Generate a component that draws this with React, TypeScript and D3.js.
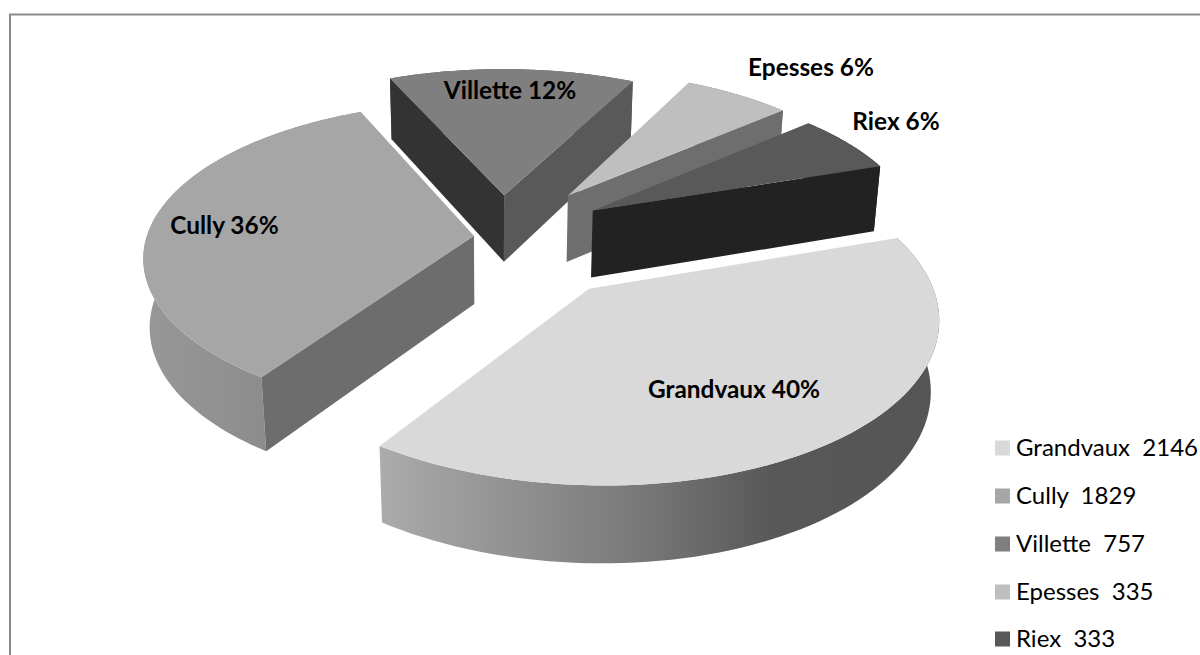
import React from "react";
import * as d3 from "d3";

const categories = ["Grandvaux", "Cully", "Villette", "Epesses", "Riex"];
const values = [2146, 1829, 757, 335, 333];
const percents = [40, 36, 12, 6, 6];
const topColors = ["#d9d9d9", "#a6a6a6", "#7f7f7f", "#bfbfbf", "#595959"];
const legendColors = ["#d9d9d9", "#a6a6a6", "#7f7f7f", "#bfbfbf", "#595959"];
const startFaceColors = ["#8a8a8a", "#6d6d6d", "#333333", "#8a8a8a", "#3a3a3a"];
const endFaceColors = ["#8a8a8a", "#6d6d6d", "#595959", "#6e6e6e", "#222222"];
const explodeX = [0.2257, -0.0585, 0.0195, 0.1892, 0.2518];
const explodeY = [0.1352, -0.1436, -0.375, -0.373, -0.286];
const radii = [0.8419, 0.8384, 0.851, 0.8422, 0.841];
const labelX = [734, 224.5, 510, 811, 896];
const labelY = [398, 234, 99, 76, 130];
const drawOrder = [2, 3, 4, 1, 0];
const legendY = [448, 496, 544, 592, 639];

const E = 0.4969, D = 5.1963, F = 2076.0661, CX = 496.7397, CY = 262.5, H = 0.201, A0 = 1.2483;

function project(X: number, Y: number, Z: number): [number, number] {
  const s = Math.sin(E), c = Math.cos(E);
  const v = Y * s - Z * c, d = D - Y * c - Z * s;
  return [CX + (F * X) / d, CY + (F * v) / d];
}

const FONT = "Lato, Carlito, sans-serif";

export default function App() {
  const pie = d3.pie<number>().sort(null).startAngle(A0).endAngle(A0 + 2 * Math.PI);
  const arcs = pie(values);
  const line = d3.line();
  const faces = (i: number) => {
    const a = arcs[i];
    const ex = explodeX[i], ey = explodeY[i], R = radii[i];
    const pt = (ang: number, r: number, z: number) =>
      project(ex + R * r * Math.sin(ang), ey - R * r * Math.cos(ang), z);
    const angs = d3.range(0, 81).map((k) => a.startAngle + ((a.endAngle - a.startAngle) * k) / 80);
    const top = line([pt(0, 0, 0), ...angs.map((t) => pt(t, 1, 0))])! + "Z";
    const outer = line([...angs.map((t) => pt(t, 1, 0)), ...angs.slice().reverse().map((t) => pt(t, 1, -H))])! + "Z";
    const startPoly = [pt(0, 0, 0), pt(a.startAngle, 1, 0), pt(a.startAngle, 1, -H), pt(0, 0, -H)];
    const endPoly = [pt(0, 0, 0), pt(a.endAngle, 1, 0), pt(a.endAngle, 1, -H), pt(0, 0, -H)];
    return {
      top,
      outer,
      start: d3.polygonArea(startPoly) > 0 ? line(startPoly)! + "Z" : null,
      end: d3.polygonArea(endPoly) < 0 ? line(endPoly)! + "Z" : null,
    };
  };
  return (
    <svg width={1200} height={655} style={{ position: "absolute", left: 0, top: 0, background: "#fff" }} fontFamily={FONT}>
      <defs>
        <linearGradient id="side0" gradientUnits="userSpaceOnUse" x1={380} x2={940} y1={0} y2={0}>
          <stop offset="0" stopColor="#ababab" />
          <stop offset="0.45" stopColor="#7a7a7a" />
          <stop offset="0.7" stopColor="#585858" />
          <stop offset="1" stopColor="#555555" />
        </linearGradient>
        <linearGradient id="side1" gradientUnits="userSpaceOnUse" x1={141} x2={270} y1={0} y2={0}>
          <stop offset="0" stopColor="#989898" />
          <stop offset="1" stopColor="#8c8c8c" />
        </linearGradient>
      </defs>
      <rect x={10} y={14.5} width={1300} height={700} fill="#fff" stroke="#8a8a8a" strokeWidth={2} />
      {drawOrder.map((i) => {
        const f = faces(i);
        return (
          <g key={categories[i]}>
            <path d={f.outer} fill={i < 2 ? `url(#side${i})` : endFaceColors[i]} />
            {f.start && <path d={f.start} fill={startFaceColors[i]} />}
            {f.end && <path d={f.end} fill={endFaceColors[i]} />}
            <path d={f.top} fill={topColors[i]} />
          </g>
        );
      })}
      {categories.map((c, i) => (
        <text key={c} x={labelX[i]} y={labelY[i]} textAnchor="middle" fontWeight={700} fontSize={24.4} fill="#000">
          {`${c} ${percents[i]}%`}
        </text>
      ))}
      {categories.map((c, i) => (
        <g key={c}>
          <rect x={995} y={legendY[i] - 7.5} width={15} height={15} fill={legendColors[i]} />
          <text x={1016} y={legendY[i] + 8} fontSize={24} fill="#000" style={{ whiteSpace: "pre" }}>{`${c}  ${values[i]}`}</text>
        </g>
      ))}
    </svg>
  );
}
